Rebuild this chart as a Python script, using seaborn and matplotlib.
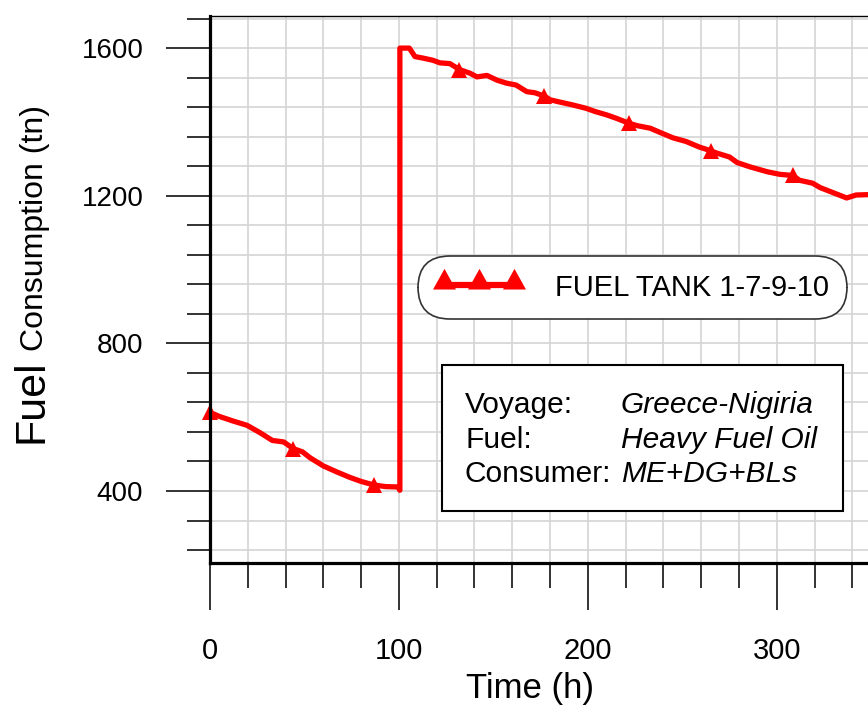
import numpy as np
import pandas as pd
import seaborn as sns
import matplotlib.pyplot as plt
from matplotlib.lines import Line2D
from matplotlib.patches import Rectangle
from matplotlib.path import Path
from matplotlib.ticker import MultipleLocator

# Fuel tank content over the voyage (hours, tonnes)
hours = [0, 5, 12, 19.6, 26.5, 33, 39, 44, 49, 53, 60, 67, 74, 80, 87, 93, 99.5, 100.5,
         100.5, 105.5, 108.5, 112.7, 118, 121.7, 127, 132, 137.6, 141.3, 146.6, 152, 157,
         162, 167.7, 172, 177, 180, 185, 192, 199, 204, 210, 215, 222, 226, 233, 238, 245,
         252, 259, 265, 268, 275, 279, 286, 295, 301.6, 308.5, 312, 319, 323, 330, 337,
         342, 348.5]
fuel = [613, 602, 590, 578, 558, 537, 533, 515, 506, 490, 468, 452, 437, 426, 416, 412, 411, 402,
        1600, 1600, 1577, 1573, 1567, 1560, 1558, 1542, 1532, 1522, 1526, 1513, 1505,
        1500, 1482, 1479, 1470, 1460, 1454, 1446, 1437, 1428, 1419, 1410, 1396, 1390, 1383, 1372, 1357,
        1347, 1332, 1322, 1316, 1305, 1290, 1278, 1265, 1258, 1255, 1242, 1234, 1222, 1208, 1194,
        1202, 1203]
# Hours at which the series symbol is drawn
marker_hours = [0, 44, 87, 132, 177, 222, 265, 308.5]

series_label = "FUEL TANK 1-7-9-10"
info_keys = ["Voyage:", "Fuel:", "Consumer:"]
info_values = ["Greece-Nigiria", "Heavy Fuel Oil", "ME+DG+BLs"]

x_major = [0, 100, 200, 300]
y_major = [400, 800, 1200, 1600]

df = pd.DataFrame({"Time": hours, "Fuel": fuel})
mark_idx = [hours.index(h) for h in marker_hours]

sns.set_style("white")
plt.rcParams["font.family"] = ["Liberation Sans", "DejaVu Sans"]
plt.rcParams["text.color"] = "black"
plt.rcParams["axes.labelcolor"] = "black"
plt.rcParams["xtick.color"] = "black"
plt.rcParams["ytick.color"] = "black"

W, H = 868, 707
fig = plt.figure(figsize=(W / 100, H / 100), dpi=100)
ax = fig.add_axes([210 / W, 1 - 563 / H, 1 - 210 / W, (563 - 16) / H])

red = "#ff0000"
sns.lineplot(data=df, x="Time", y="Fuel", ax=ax, sort=False, estimator=None,
             color=red, lw=3.8, marker="^", markersize=11, markeredgewidth=0,
             markevery=mark_idx, legend=False, clip_on=False)

ax.set_xlim(0, 348.3)
ax.set_ylim(205, 1687)
ax.set_xticks(x_major)
ax.set_yticks(y_major)
ax.xaxis.set_minor_locator(MultipleLocator(20))
ax.yaxis.set_minor_locator(MultipleLocator(80))

ax.set_axisbelow(True)
ax.grid(which="both", color="#d4d4d4", lw=1.2)

ax.tick_params(which="both", bottom=True, left=True, top=False, right=False)
ax.tick_params(axis="x", which="major", direction="out", length=34, width=1.2,
               color="#111111", pad=19, labelsize=21, labelcolor="black")
ax.tick_params(axis="x", which="minor", direction="out", length=18, width=1.2, color="#111111")
ax.tick_params(axis="y", which="major", direction="out", length=32, width=1.2,
               color="#111111", pad=16, labelsize=20, labelcolor="black")
ax.tick_params(axis="y", which="minor", direction="out", length=16.5, width=1.2, color="#111111")

for side in ["left", "bottom"]:
    ax.spines[side].set_linewidth(2.3)
    ax.spines[side].set_color("black")
ax.spines["top"].set_linewidth(1.0)
ax.spines["top"].set_color("black")
ax.spines["right"].set_visible(False)

ax.set_ylabel("")
ax.set_xlabel("Time (h)", fontsize=25, color="black")
ax.xaxis.set_label_coords((530 - 210) / 658, -(698 - 563) / 547)
ax.xaxis.label.set_va("baseline")

# Two-part y axis title
fig.text(43 / W, 1 - 443 / H, "Fuel", rotation=90, rotation_mode="anchor",
         ha="left", va="baseline", fontsize=31)
fig.text(43 / W, 1 - 351 / H, "Consumption (tn)", rotation=90, rotation_mode="anchor",
         ha="left", va="baseline", fontsize=23)

# Series legend in a pill-shaped frame; triangles stand on the line
tri = Path([(-1.0, -0.35), (1.0, -0.35), (0.0, 1.45), (-1.0, -0.35)],
           [Path.MOVETO, Path.LINETO, Path.LINETO, Path.CLOSEPOLY])
handle = Line2D([], [], color=red, lw=4.5, marker=tri, markersize=24, markeredgewidth=0)
leg = ax.legend([handle], [series_label], loc="center",
                bbox_to_anchor=(632.5 / W, 1 - 287.5 / H), bbox_transform=fig.transFigure,
                fontsize=21, numpoints=3, handlelength=3.0,
                handletextpad=1.1, borderpad=0.6, frameon=True, framealpha=1,
                fancybox=True, edgecolor="#333333", facecolor="white")
leg.get_frame().set_boxstyle("round", pad=0, rounding_size=1.1)
leg.get_frame().set_linewidth(1.2)

# Voyage information box
ax.add_patch(Rectangle((442 / W, 1 - 511 / H), 401 / W, 146 / H, transform=fig.transFigure,
                       facecolor="white", edgecolor="black", lw=1.5, zorder=6, clip_on=False))
baselines = [413, 448, 482]
for key, val, yb in zip(info_keys, info_values, baselines):
    ax.text(465 / W, 1 - yb / H, key, transform=fig.transFigure, fontsize=21.5,
            ha="left", va="baseline", zorder=7)
    ax.text(621 / W, 1 - yb / H, val, transform=fig.transFigure, fontsize=21.5,
            style="italic", ha="left", va="baseline", zorder=7)

fig.savefig("out.png", dpi=100)
